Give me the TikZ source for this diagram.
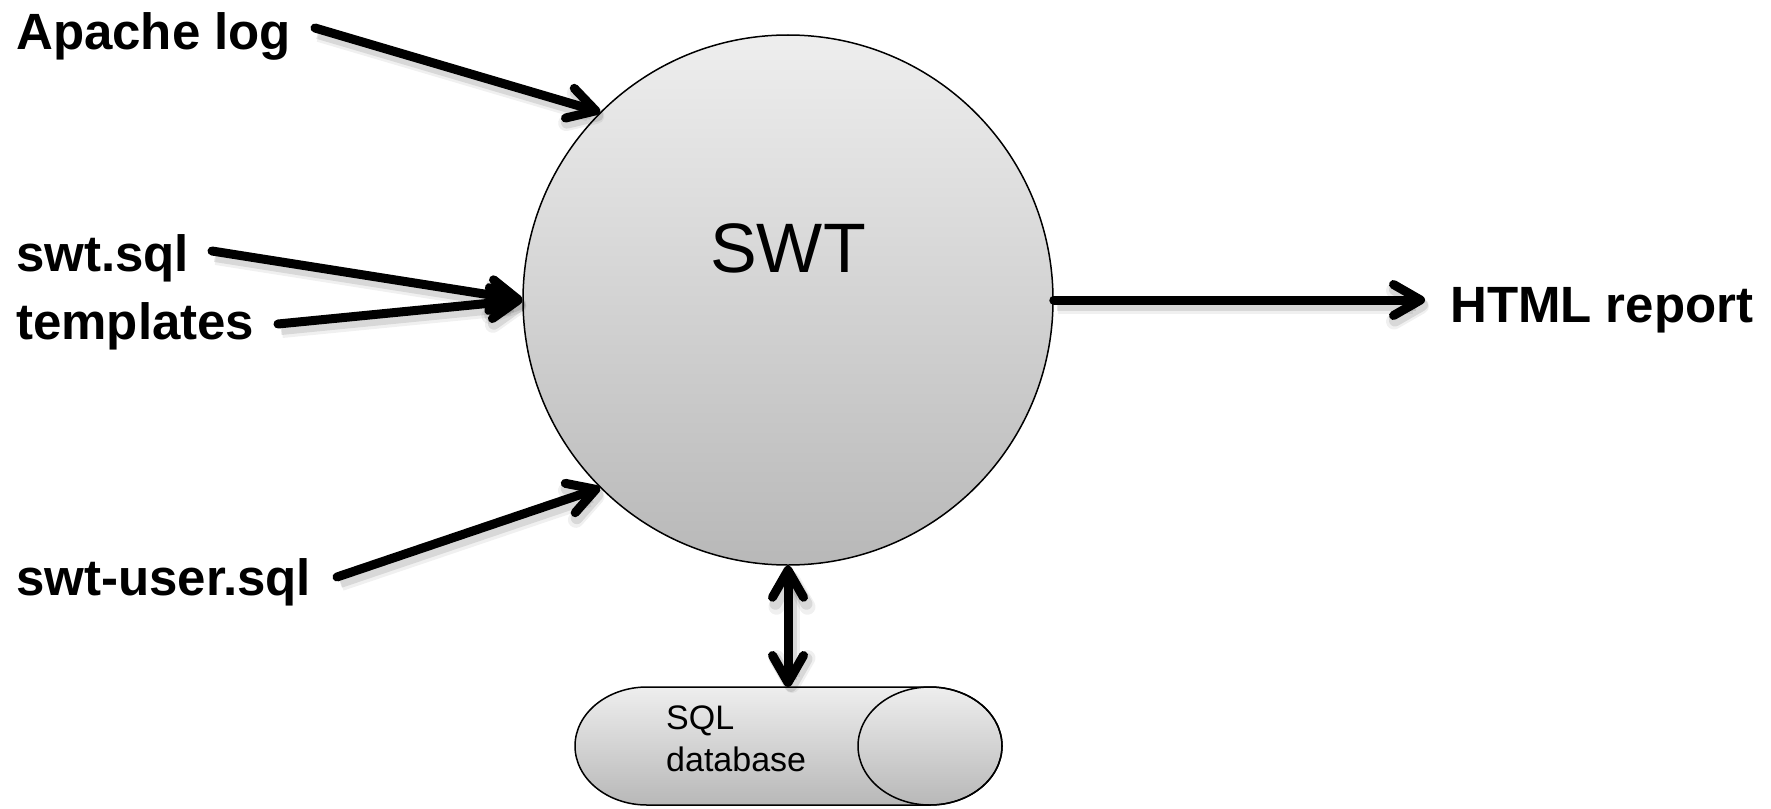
\documentclass[tikz,border=0pt]{standalone}
\usepackage{fontspec}
\setmainfont{Liberation Sans}
\usetikzlibrary{arrows.meta}
\definecolor{shadetop}{HTML}{EEEEEE}
\definecolor{shadebot}{HTML}{B8B8B8}
\tikzset{
  inlabel/.style={anchor=base west, inner sep=0pt, font=\fontsize{51}{60}\selectfont\bfseries},
  barb/.tip={Straight Barb[length=27pt, width=31pt, line cap=round, line join=round]},
  softshadow/.style={preaction={draw=black, draw opacity=0.10, line width=12pt,
      transform canvas={shift={(3pt,-5pt)}}},
    preaction={draw=black, draw opacity=0.06, line width=16pt,
      transform canvas={shift={(4pt,-6pt)}}}},
  flow/.style={line width=9pt, line cap=round, line join=round, -barb, softshadow},
  biflow/.style={line width=9pt, line cap=round, line join=round, barb-barb, softshadow},
  greyshade/.style={shading=axis, top color=shadetop, bottom color=shadebot, shading angle=0},
}
\begin{document}
\begin{tikzpicture}[x=1pt, y=-1pt]
  \useasboundingbox (0,0) rectangle (1771,808);

  % central process
  \node[circle, draw, line width=1.5pt, greyshade, minimum size=530pt, inner sep=0pt] (swt) at (788,300) {};
  \node[font=\fontsize{70}{80}\selectfont] (swtlabel) at (788,248) {SWT};

  % inputs and output
  \node[inlabel] (apache) at (16,50) {Apache log};
  \node[inlabel] (swtsql) at (16,271) {swt.sql};
  \node[inlabel] (templates) at (16,339) {templates};
  \node[inlabel] (swtuser) at (16,595) {swt-user.sql};
  \node[inlabel] (html) at (1450,322) {HTML report};

  \coordinate (apachestart) at (315,28);
  \coordinate (sqlstart) at (212,251);
  \coordinate (tplstart) at (278,324);
  \coordinate (userstart) at (337,577);
  \coordinate (htmlend) at (1425,300);

  \draw[flow] (apachestart) -- (swt.135);
  \draw[flow] (sqlstart) -- (swt.180);
  \draw[flow] (tplstart) -- (swt.180);
  \draw[flow] (userstart) -- (swt.225);
  \draw[flow] (swt.0) -- (htmlend);

  % database store drawn as a horizontal cylinder
  \path[draw, line width=1.5pt, greyshade]
    (930,687) -- (647,687)
    arc[start angle=90, end angle=270, x radius=72pt, y radius=59pt]
    -- (930,805)
    arc[start angle=-90, end angle=90, x radius=72pt, y radius=59pt] -- cycle;
  \draw[line width=1.5pt] (930,746) ellipse [x radius=72pt, y radius=59pt];
  \coordinate (dbtop) at (788,687);
  \node[anchor=base west, inner sep=0pt, align=left, font=\fontsize{34}{42}\selectfont] (db) at (666,771) {SQL\\database};

  \draw[biflow] (swt.south) -- (dbtop);
\end{tikzpicture}
\end{document}
